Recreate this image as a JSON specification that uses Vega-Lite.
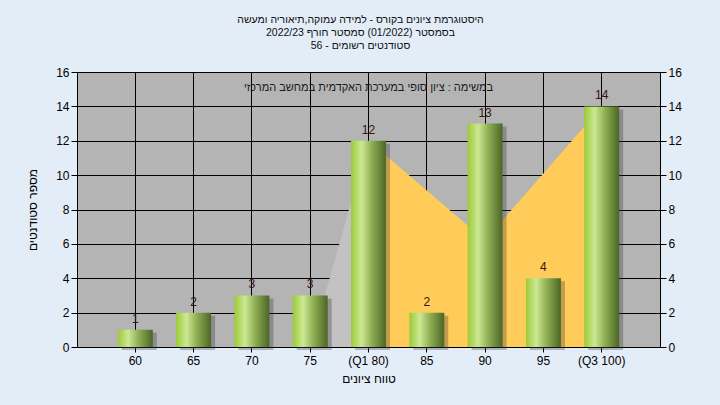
{
  "$schema": "https://vega.github.io/schema/vega-lite/v6.json",
  "autosize": {"type": "none"},
  "width": 583,
  "height": 275,
  "padding": {"left": 77, "top": 72, "right": 60, "bottom": 58},
  "background": "#e3edf8",
  "config": {
    "view": {"fill": "#b4b4b4", "stroke": null},
    "font": "Liberation Sans",
    "axis": {"labelFont": "Liberation Sans", "titleFont": "Liberation Sans", "labelFontSize": 12, "titleFontSize": 12, "titleFontWeight": "normal", "labelColor": "#000", "titleColor": "#000", "domainColor": "#000", "tickColor": "#000", "gridColor": "#000", "gridOpacity": 1, "gridWidth": 1}
  },
  "title": {
    "text": ["היסטוגרמת ציונים בקורס - למידה עמוקה,תיאוריה ומעשה", "בסמסטר  (01/2022)  סמסטר חורף 2022/23", "סטודנטים רשומים - 56"],
    "fontSize": 10.5,
    "font": "Liberation Sans",
    "fontWeight": "normal",
    "color": "#101010",
    "lineHeight": 13,
    "offset": 15,
    "dx": -8,
    "anchor": "middle"
  },
  "datasets": {
    "bars": [
      {"k": "60", "n": 1},
      {"k": "65", "n": 2},
      {"k": "70", "n": 3},
      {"k": "75", "n": 3},
      {"k": "(Q1 80)", "n": 12},
      {"k": "85", "n": 2},
      {"k": "90", "n": 13},
      {"k": "95", "n": 4},
      {"k": "(Q3 100)", "n": 14}
    ],
    "lower": [
      {"k": "75", "n": 0},
      {"k": "(Q1 80)", "n": 12}
    ],
    "iqr": [
      {"k": "(Q1 80)", "n": 12},
      {"k": "85", "n": 9.1},
      {"k": "90", "n": 6.2},
      {"k": "95", "n": 10.1},
      {"k": "(Q3 100)", "n": 14}
    ],
    "note": [
      {"t": "במשימה : ציון סופי במערכת האקדמית במחשב המרכזי"}
    ]
  },
  "resolve": {"axis": {"x": "independent", "y": "independent"}},
  "layer": [
    {
      "data": {"name": "lower"},
      "mark": {"type": "area", "color": "#c2c2c2", "opacity": 1},
      "encoding": {
        "x": {"field": "k", "type": "ordinal", "sort": null, "bandPosition": 0.5,
          "scale": {"domain": ["60", "65", "70", "75", "(Q1 80)", "85", "90", "95", "(Q3 100)"], "type": "band", "paddingInner": 0.4, "paddingOuter": 0.7},
          "axis": {"orient": "bottom", "title": "טווח ציונים", "labelAngle": 0, "grid": true, "tickSize": 5, "labelPadding": 3, "titlePadding": 7}},
        "y": {"field": "n", "type": "quantitative", "axis": null}
      }
    },
    {
      "data": {"name": "iqr"},
      "mark": {"type": "area", "color": "#ffcc5a", "opacity": 1},
      "encoding": {
        "x": {"field": "k", "type": "ordinal", "sort": null, "bandPosition": 0.5, "axis": null},
        "y": {"field": "n", "type": "quantitative", "axis": null}
      }
    },
    {
      "data": {"name": "bars"},
      "mark": {"type": "bar", "color": "#303030", "opacity": 0.3, "xOffset": 4, "yOffset": 3},
      "encoding": {
        "x": {"field": "k", "type": "ordinal", "sort": null, "axis": null},
        "y": {"field": "n", "type": "quantitative", "axis": null}
      }
    },
    {
      "data": {"name": "bars"},
      "mark": {
        "type": "bar",
        "color": {"gradient": "linear", "x1": 0, "y1": 0, "x2": 1, "y2": 0, "stops": [
          {"offset": 0, "color": "#9acb38"},
          {"offset": 0.3, "color": "#cde893"},
          {"offset": 0.6, "color": "#8dad52"},
          {"offset": 1, "color": "#4c6626"}
        ]}
      },
      "encoding": {
        "x": {"field": "k", "type": "ordinal", "sort": null, "axis": null},
        "y": {"field": "n", "type": "quantitative", "scale": {"domain": [0, 16]},
          "axis": {"orient": "left", "title": "מספר סטודנטים", "values": [0, 2, 4, 6, 8, 10, 12, 14, 16], "grid": true, "tickSize": 6, "labelPadding": 2, "titlePadding": 16}}
      }
    },
    {
      "data": {"name": "bars"},
      "mark": {"type": "text", "baseline": "alphabetic", "dy": -7, "fontSize": 12, "color": "#3a1212", "font": "Liberation Sans"},
      "encoding": {
        "x": {"field": "k", "type": "ordinal", "sort": null, "axis": null},
        "y": {"field": "n", "type": "quantitative",
          "axis": {"orient": "right", "title": null, "values": [0, 2, 4, 6, 8, 10, 12, 14, 16], "grid": false, "tickSize": 6, "labelPadding": 2}},
        "text": {"field": "n", "type": "quantitative"}
      }
    },
    {
      "data": {"name": "note"},
      "mark": {"type": "text", "fontSize": 11, "color": "#1a1a1a", "font": "Liberation Sans", "baseline": "middle"},
      "encoding": {
        "y": {"datum": 15.05, "type": "quantitative", "axis": null},
        "text": {"field": "t"}
      }
    }
  ]
}
